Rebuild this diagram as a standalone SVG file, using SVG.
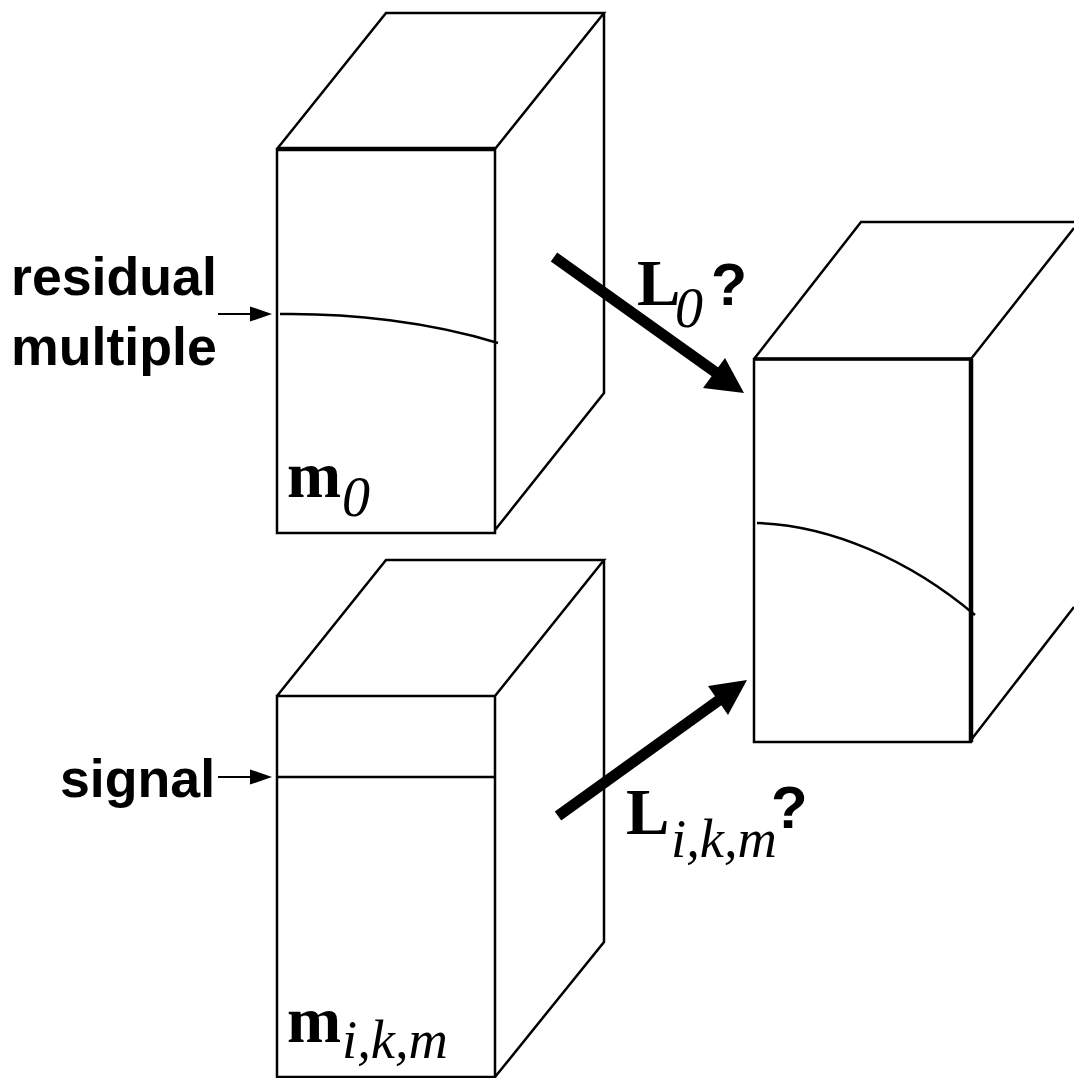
<svg xmlns="http://www.w3.org/2000/svg" width="1074" height="1078" viewBox="0 0 1074 1078">
<style>
.l{fill:none;stroke:#000;stroke-width:2.5;stroke-linejoin:miter}
.t{font-family:"Liberation Sans",Arial,sans-serif;font-weight:700;font-size:53.7px;fill:#000}
.s{font-family:"Liberation Serif","Times New Roman",serif;fill:#000;font-size:65px;font-weight:700}
.i{font-style:italic;font-size:56px;font-weight:400}
.ik{font-style:italic;font-size:54.5px;font-weight:400}
.h{fill:#000;stroke:none}
</style>
<rect width="1074" height="1078" fill="#fff"/>
<g id="cube-m0">
<path class="l" d="M277 149H495V533H277ZM277 149L386 13H604L495 149M604 13V393L495 530"/>
<path d="M277 149H495" stroke="#000" stroke-width="4.5" fill="none"/>
<path class="l" d="M280 314C350 313 430 322 498 343"/>
<text class="s" x="287" y="497">m<tspan class="i" x="342" y="516">0</tspan></text>
</g>
<g id="cube-mikm">
<path class="l" d="M277 696H495V1077H277ZM277 696L386 560H604L495 696M604 560V942L495 1077"/>
<path class="l" d="M277 777H494"/>
<text class="s" x="287" y="1042">m<tspan class="ik" x="342" y="1058">i,k,m</tspan></text>
</g>
<g id="cube-result">
<path class="l" d="M754 359H971V742H754ZM754 359L861 222H1074M971 359L1074 228M1074 607L971 740"/>
<path d="M754 359H971" stroke="#000" stroke-width="3.5" fill="none"/>
<path d="M971 359V742" stroke="#000" stroke-width="4.5" fill="none"/>
<path class="l" d="M757 523C830 525 910 560 975 615"/>
</g>
<g id="connectors">
<path d="M218 314H252" stroke="#000" stroke-width="2.2"/><path class="h" d="M272 314L250 306.500V321.500Z"/>
<path d="M218 777H252" stroke="#000" stroke-width="2.2"/><path class="h" d="M272 777L250 769.500V784.500Z"/>
<path d="M554 257L718 374" stroke="#000" stroke-width="11"/><path class="h" d="M744 393L703 388L725 358Z"/>
<path d="M558 816L722 698" stroke="#000" stroke-width="11"/><path class="h" d="M747 680L708 686L728 715Z"/>
</g>
<g id="labels">
<text class="t" x="11" y="295">residual</text>
<text class="t" x="11" y="365">multiple</text>
<text class="t" x="60" y="797">signal</text>
<text class="s" x="637" y="305">L<tspan class="i" x="675" y="327">0</tspan></text><text class="t" x="711" y="305" style="font-size:59px">?</text>
<text class="s" x="626" y="834">L<tspan class="ik" x="671" y="857">i,k,m</tspan></text><text class="t" x="771" y="828" style="font-size:60px">?</text>
</g>
</svg>
